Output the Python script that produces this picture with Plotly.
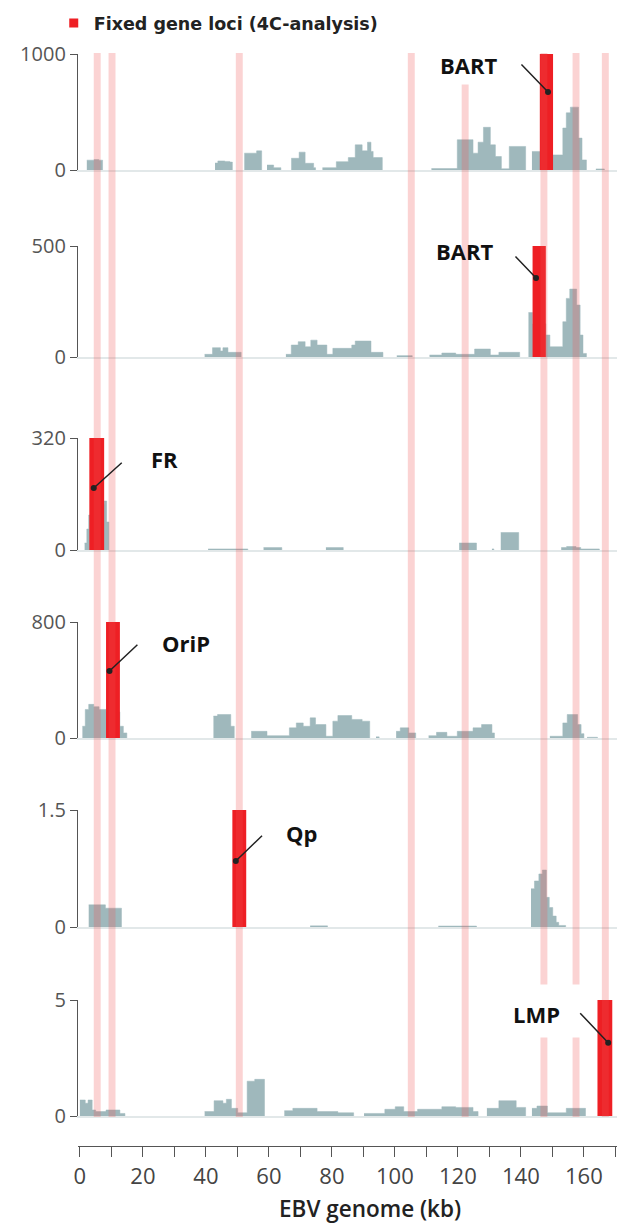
import plotly.graph_objects as go

W, H = 618, 1223

# ---------------- data (EBV genome position in kb, signal per panel) ----------------
P1_KB = [[2.2, 4.5, 6.0, 7.2],
         [42.9, 43.8, 46.0, 47.6, 48.4],
         [52.2, 56.1, 57.7],
         [59.4, 61.5, 63.8],
         [67.1, 69.6, 71.5, 74.2, 74.8],
         [77.0, 81.4, 85.2, 87.4, 89.6, 91.3, 92.4, 93.1, 96.0],
         [111.6, 119.8, 124.8, 126.4, 128.1, 130.3, 131.9, 133.8, 136.3, 141.5],
         [143.5, 145.7, 150.0, 153.3, 154.4, 155.7, 158.3, 159.4, 160.8],
         [163.8, 166.5]]
P1_VAL = [[85, 90, 85, 0],
          [60, 78, 74, 68, 0],
          [145, 165, 0],
          [43, 20, 0],
          [101, 154, 58, 20, 0],
          [20, 72, 107, 217, 165, 240, 160, 107, 0],
          [12, 261, 145, 240, 368, 217, 116, 10, 203, 0],
          [160, 160, 130, 362, 493, 542, 275, 87, 0],
          [9, 0]]

P2_KB = [[39.6, 42.1, 44.6, 45.4, 47.0, 51.2],
         [65.4, 67.1, 69.3, 71.5, 73.3, 75.3, 78.4, 80.3, 86.3, 87.4, 92.4, 96.2],
         [100.6, 105.5],
         [111.0, 114.9, 119.3, 125.3, 130.3, 133.0, 139.6],
         [142.4, 143.7, 147.9, 149.2, 153.3, 154.4, 155.5, 157.7, 158.8, 159.7, 160.8]]
P2_VAL = [[12, 42, 27, 42, 21, 0],
          [12, 54, 69, 46, 76, 54, 12, 39, 54, 72, 21, 0],
          [6, 0],
          [9, 18, 12, 36, 9, 21, 0],
          [200, 150, 99, 46, 159, 264, 306, 234, 99, 16, 0]]

P3_KB = [[1.5, 2.2, 2.8, 3.4, 5.0, 7.7, 8.5, 9.2],
         [40.7, 53.3],
         [58.3, 64.1],
         [78.1, 83.6],
         [120.4, 125.9],
         [130.8, 131.4],
         [133.6, 139.3],
         [152.8, 154.5, 157.5, 159.0, 164.9]]
P3_VAL = [[20, 60, 100, 120, 130, 140, 80, 0],
          [3, 0],
          [7, 0],
          [7, 0],
          [20, 0],
          [3, 0],
          [50, 0],
          [7, 10, 7, 3, 0]]

P4_KB = [[0.8, 1.7, 2.8, 4.4, 6.1, 8.3, 12.7, 13.8, 14.9],
         [42.4, 43.7, 47.9, 49.0],
         [54.4, 59.4, 66.5, 68.7, 70.9, 73.1, 74.8, 78.1, 80.3, 81.9, 86.3, 89.6, 92.0],
         [94.0, 95.0],
         [100.4, 101.7, 104.4, 106.6],
         [110.7, 113.2, 116.5, 119.8, 124.8, 127.5, 130.8, 131.6],
         [149.2, 153.3, 154.7, 158.0, 159.1, 160.0],
         [161.0, 164.3]]
P4_VAL = [[81, 197, 232, 216, 197, 180, 81, 35, 0],
          [151, 162, 81, 0],
          [46, 16, 70, 104, 81, 139, 93, 12, 116, 155, 128, 116, 0],
          [8, 0],
          [46, 70, 35, 0],
          [16, 39, 12, 46, 70, 93, 35, 0],
          [12, 104, 162, 93, 30, 0],
          [5, 0]]

P5_KB = [[2.8, 8.1, 13.2],
         [73.1, 78.6],
         [113.8, 125.9],
         [143.2, 144.3, 145.7, 146.8, 148.1, 149.0, 150.1, 151.2, 152.0, 154.2]]
P5_VAL = [[0.284, 0.241, 0],
          [0.015, 0],
          [0.012, 0],
          [0.49, 0.59, 0.68, 0.73, 0.38, 0.25, 0.14, 0.06, 0.02, 0]]

P6_KB = [[0.0, 1.7, 2.6, 3.9, 5.0, 8.3, 12.7, 14.3],
         [39.6, 42.6, 45.4, 46.5, 48.1, 50.1, 53.1, 55.5, 58.6],
         [64.9, 67.6, 75.3, 81.9, 86.9],
         [90.2, 96.8, 100.1, 102.8, 107.2, 114.9, 119.3, 124.8, 126.4],
         [129.2, 133.0, 138.5, 141.5],
         [143.5, 145.1, 148.4, 154.4, 160.5]]
P6_VAL = [[0.69, 0.55, 0.69, 0.26, 0.19, 0.26, 0.11, 0],
          [0.19, 0.66, 0.55, 0.72, 0.33, 0.14, 1.50, 1.58, 0],
          [0.23, 0.33, 0.19, 0.14, 0],
          [0.11, 0.29, 0.40, 0.19, 0.29, 0.40, 0.37, 0.19, 0],
          [0.33, 0.66, 0.37, 0],
          [0.33, 0.43, 0.14, 0.33, 0]]

PANEL_KB = [P1_KB, P2_KB, P3_KB, P4_KB, P5_KB, P6_KB]
PANEL_VAL = [P1_VAL, P2_VAL, P3_VAL, P4_VAL, P5_VAL, P6_VAL]
PANEL_MAX = [1000, 500, 320, 800, 1.5, 5]
PANEL_MAX_TEXT = ["1000", "500", "320", "800", "1.5", "5"]

# fixed gene loci (4C viewpoints), one per panel
LOCI_LABEL = ["BART", "BART", "FR", "OriP", "Qp", "LMP"]
LOCI_START = [146.0, 143.7, 3.0, 8.3, 48.4, 164.3]
LOCI_END = [150.2, 147.9, 7.7, 12.7, 52.8, 169.0]

# highlighted loci across all panels (kb)
BAND_KB = [5.5, 10.2, 50.6, 105.2, 122.3, 147.3, 157.5, 166.8]
BAND_HALF = 1.1

X_TICKS = list(range(0, 171, 10))
X_TICKTEXT = [str(v) if v % 20 == 0 else "" for v in X_TICKS]
X_TITLE = "EBV genome (kb)"
LEGEND_NAME = "Fixed gene loci (4C-analysis)"

# ---------------- style / layout ----------------
GRAY = "#9fb8bc"
RED = "#ee1f24"
FONT = "Open Sans"
XR = [-0.6, 170.5]
L_M, R_M = 78, 1
TOP_PX = [54, 246, 438, 622, 810, 1000]
BOT_PX = [170, 357, 550, 738, 927, 1116]
XAXIS_PX = 1146


def py(p):
    return 1 - p / H


def pxx(p):
    return (p - L_M) / (W - L_M - R_M)


fig = go.Figure()

# legend-only marker
fig.add_trace(go.Scatter(x=[None], y=[None], mode="markers",
                         marker=dict(symbol="square", size=9, color=RED),
                         name=f"<b>{LEGEND_NAME}</b>",
                         xaxis="x", yaxis="y", showlegend=True))

for i in range(6):
    n = "" if i == 0 else str(i + 1)
    for xs, ys in zip(PANEL_KB[i], PANEL_VAL[i]):
        fig.add_trace(go.Scatter(x=xs, y=ys, mode="lines",
                                 line=dict(width=0.5, color=GRAY, shape="hv"),
                                 fill="tozeroy", fillcolor=GRAY,
                                 xaxis="x" + n, yaxis="y" + n, showlegend=False,
                                 hoverinfo="skip"))
for i in range(6):
    n = "" if i == 0 else str(i + 1)
    fig.add_trace(go.Scatter(x=[LOCI_START[i], LOCI_END[i]],
                             y=[PANEL_MAX[i], PANEL_MAX[i]], mode="lines",
                             line=dict(width=0, color=RED), fill="tozeroy",
                             fillcolor=RED, xaxis="x" + n, yaxis="y" + n,
                             showlegend=False, hoverinfo="skip"))

# dummy for the shared bottom axis
fig.add_trace(go.Scatter(x=[None], y=[None], xaxis="x7", yaxis="y7",
                         showlegend=False))

layout = dict(
    width=W, height=H,
    margin=dict(l=L_M, r=R_M, t=0, b=0, autoexpand=False),
    paper_bgcolor="white", plot_bgcolor="rgba(0,0,0,0)",
    font=dict(family=FONT, color="#222"),
    showlegend=True,
    legend=dict(x=-0.045, y=py(23), xanchor="left", yanchor="middle",
                font=dict(size=17.5, color="#222", family="DejaVu Sans"),
                bgcolor="rgba(0,0,0,0)", itemwidth=30,
                tracegroupgap=0),
)

for i in range(6):
    k = i + 1
    sx = "xaxis" if k == 1 else f"xaxis{k}"
    sy = "yaxis" if k == 1 else f"yaxis{k}"
    layout[sx] = dict(domain=[0, 1], anchor=f"y{k}" if k > 1 else "y", range=XR,
                      showline=True, linecolor="#e2e8e9", linewidth=2,
                      ticks="", showticklabels=False, showgrid=False,
                      zeroline=False, fixedrange=True)
    layout[sy] = dict(domain=[py(BOT_PX[i]), py(TOP_PX[i])],
                      anchor=f"x{k}" if k > 1 else "x",
                      range=[0, PANEL_MAX[i]], tickvals=[0, PANEL_MAX[i]],
                      ticktext=["0", PANEL_MAX_TEXT[i]], ticks="outside",
                      ticklen=7, tickwidth=1.3, tickcolor="#555",
                      showline=True, linecolor="#555", linewidth=1.3,
                      showgrid=False, zeroline=False,
                      tickfont=dict(size=20, color="#555", family=FONT))

layout["xaxis7"] = dict(domain=[0, 1], anchor="y7", range=XR,
                        tickvals=X_TICKS, ticktext=X_TICKTEXT,
                        ticks="outside", ticklen=10, tickwidth=1.3,
                        tickcolor="#555", showline=True, linecolor="#555",
                        linewidth=1.3, showgrid=False, zeroline=False,
                        tickfont=dict(size=22, color="#444", family=FONT))
layout["yaxis7"] = dict(domain=[py(XAXIS_PX), py(XAXIS_PX - 0.5)], anchor="x7",
                        visible=False, range=[0, 1])

# vertical highlight bands
shapes = []
for c in BAND_KB:
    shapes.append(dict(type="rect", xref="x", yref="paper",
                       x0=c - BAND_HALF, x1=c + BAND_HALF,
                       y0=py(1117), y1=py(53), line=dict(width=0),
                       fillcolor="rgba(240,80,80,0.25)", layer="above"))
layout["shapes"] = shapes

# annotations: white label boxes, labels, pointer lines
TEXT_POS = [(123.2, 905), (122.0, 477), (26.7, 260), (33.7, 655), (70.2, 1.205), (144.8, 4.4)]
HEAD_POS = [(148.6, 672), (144.8, 356), (4.4, 177), (9.4, 462), (49.5, 0.846), (167.7, 3.16)]
TAIL_OFF = [(-28, -29), (-22, -23), (29.5, -26.6), (29.4, -27.6), (27.7, -26.7), (-29.4, -31)]
BOXES = {0: (123.2, 915, 80, 40), 5: (147.6, 4.53, 92, 52)}

ann = []
for i, (bx, by, bw, bh) in BOXES.items():
    n = "" if i == 0 else str(i + 1)
    ann.append(dict(x=bx, y=by, xref="x" + n, yref="y" + n, text=" ",
                    showarrow=False, bgcolor="white", width=bw, height=bh,
                    borderpad=0))
for i in range(6):
    n = "" if i == 0 else str(i + 1)
    ann.append(dict(x=TEXT_POS[i][0], y=TEXT_POS[i][1], xref="x" + n, yref="y" + n,
                    text=f"<b>{LOCI_LABEL[i]}</b>", showarrow=False,
                    font=dict(size=22, color="#111", family=FONT)))
for i in range(6):
    n = "" if i == 0 else str(i + 1)
    ann.append(dict(x=HEAD_POS[i][0], y=HEAD_POS[i][1], xref="x" + n, yref="y" + n,
                    ax=TAIL_OFF[i][0], ay=TAIL_OFF[i][1], text="",
                    showarrow=True, arrowhead=6, arrowsize=1, arrowwidth=1.5,
                    arrowcolor="#222", standoff=0, startstandoff=0))
# x-axis title
ann.append(dict(x=pxx(370), y=py(1208), xref="paper", yref="paper",
                text=X_TITLE, showarrow=False, xanchor="center", yanchor="middle",
                font=dict(size=22.5, color="#222", family=FONT, weight=600)))
layout["annotations"] = ann

fig.update_layout(**layout)
fig.write_html("out.html", config={"displayModeBar": False},
               post_script="document.body.style.margin='0';document.body.style.overflow='hidden';")
